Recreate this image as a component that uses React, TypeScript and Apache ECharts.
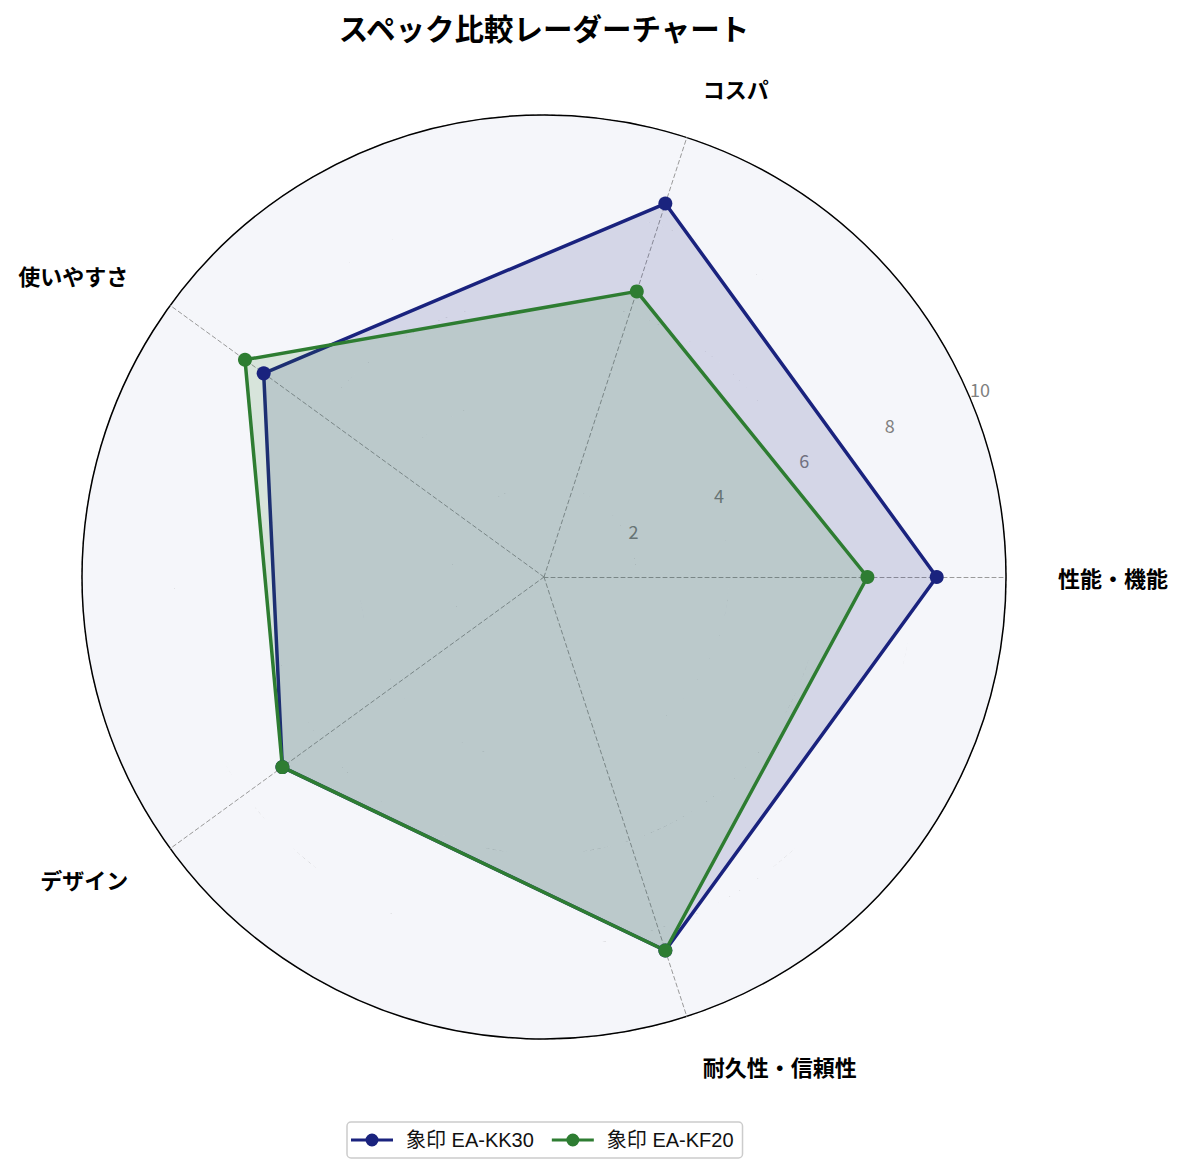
import React, { useEffect, useRef } from 'react';
import * as echarts from 'echarts';

const indicatorNames = ['性能・機能', 'コスパ', '使いやすさ', 'デザイン', '耐久性・信頼性'];
const modelNames = ['象印 EA-KK30', '象印 EA-KF20'];
const kk30Values = [8.5, 8.5, 7.5, 7.0, 8.5];
const kf20Values = [7.0, 6.5, 8.0, 7.0, 8.5];
const modelColors = ['#1a237e', '#2e7d32'];
const modelFills = ['rgba(26,35,126,0.15)', 'rgba(46,125,50,0.15)'];

const FONT = '"Noto Sans CJK JP", "Noto Sans", sans-serif';
const LEGEND_FONT = '"Liberation Sans", "Noto Sans CJK JP", sans-serif';
const CENTER = [544, 577];
const RADIUS = 462;
const legendIcon = 'path://M0,4.5H42V7.5H0Z M14.5,6A6.5,6.5 0 1,1 27.5,6A6.5,6.5 0 1,1 14.5,6Z';

const App = () => {
  const chartRef = useRef(null);

  useEffect(() => {
    const chart = echarts.init(chartRef.current, null, { renderer: 'svg' });

    const seriesValues = [kk30Values, kf20Values];

    const option = {
      animation: false,
      backgroundColor: '#fff',
      title: {
        text: 'スペック比較レーダーチャート',
        left: CENTER[0],
        textAlign: 'center',
        top: 12,
        padding: 0,
        textStyle: { fontFamily: FONT, fontSize: 29.5, fontWeight: 'bold', color: '#000' }
      },
      legend: {
        top: 1122,
        left: 347,
        data: modelNames,
        icon: legendIcon,
        itemWidth: 42,
        itemHeight: 13,
        itemGap: 18,
        padding: [8, 9, 8, 4],
        borderColor: '#cccccc',
        borderWidth: 1.5,
        borderRadius: 4,
        textStyle: { fontFamily: LEGEND_FONT, fontSize: 20, color: '#111', padding: [0, 0, 0, 8] }
      },
      polar: { center: CENTER, radius: RADIUS },
      angleAxis: {
        type: 'value',
        min: 0,
        max: 360,
        startAngle: 22.5,
        z: 1,
        axisLine: { show: true, lineStyle: { color: '#000', width: 1.5 } },
        axisTick: { show: false },
        axisLabel: { show: false },
        splitLine: { show: false }
      },
      radiusAxis: {
        type: 'value',
        min: 0,
        max: 10,
        interval: 2,
        z: 1,
        axisLine: { show: false },
        axisTick: { show: false },
        axisLabel: {
          margin: 2,
          align: 'left',
          verticalAlign: 'bottom',
          color: '#808080',
          fontSize: 18,
          fontFamily: FONT,
          formatter: (v: number) => (v === 0 ? '' : String(v))
        },
        splitLine: { show: true, lineStyle: { color: '#9a9a9a', type: [4, 3], width: 1 } },
        splitArea: { show: true, areaStyle: { color: ['#f5f6fa'] } }
      },
      radar: {
        center: CENTER,
        radius: RADIUS,
        startAngle: 0,
        shape: 'circle',
        splitNumber: 5,
        z: 2,
        indicator: indicatorNames.map((name) => ({ name, min: 0, max: 10 })),
        nameGap: 52,
        axisName: { color: '#000', fontSize: 22, fontWeight: 'bold', fontFamily: FONT },
        axisLine: { show: true, lineStyle: { color: '#9a9a9a', type: [4, 3], width: 1 } },
        splitLine: { show: false },
        splitArea: { show: false }
      },
      series: [
        {
          type: 'radar',
          z: 5,
          data: modelNames.map((name, i) => ({
            name,
            value: seriesValues[i],
            symbol: 'circle',
            symbolSize: 14,
            itemStyle: { color: modelColors[i] },
            lineStyle: { color: modelColors[i], width: 3.5 },
            areaStyle: { color: modelFills[i], opacity: 1 }
          }))
        }
      ]
    };

    chart.setOption(option);

    return () => {
      chart.dispose();
    };
  }, []);

  return (
    <div
      ref={chartRef}
      style={{ position: 'fixed', left: 0, top: 0, width: '1185px', height: '1172px' }}
    />
  );
};

export default App;
